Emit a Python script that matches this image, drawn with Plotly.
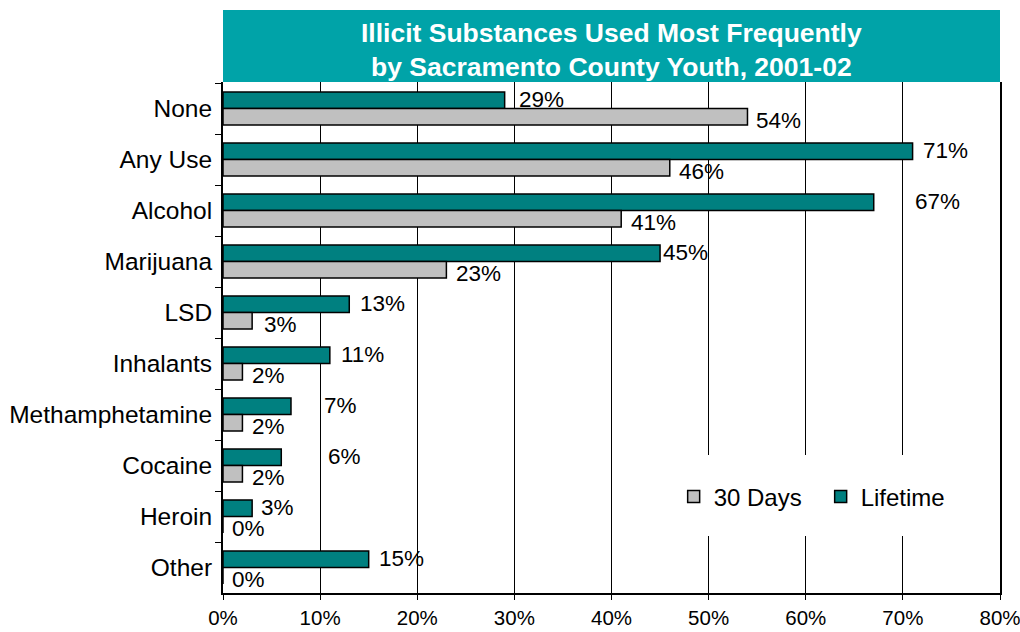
import plotly.graph_objects as go

categories = ["None", "Any Use", "Alcohol", "Marijuana", "LSD", "Inhalants",
              "Methamphetamine", "Cocaine", "Heroin", "Other"]
lifetime = [29, 71, 67, 45, 13, 11, 7, 6, 3, 15]
days30 = [54, 46, 41, 23, 3, 2, 2, 2, 0, 0]
x_ticks = [0, 10, 20, 30, 40, 50, 60, 70, 80]

# label offsets in pixels (style only)
lifetime_label_dx = [12, 8, 39, 1, 9, 9, 31, 45, 7, 8]
days30_label_dx = [7, 7, 8, 8, 10, 8, 8, 8, 7, 7]

TEAL = "#008080"
GRAY = "#C0C0C0"
FONT = "Arial, Liberation Sans, sans-serif"

fig = go.Figure()
fig.add_trace(go.Bar(
    name="Lifetime", y=categories, x=lifetime, orientation="h",
    marker=dict(color=TEAL, line=dict(color="black", width=1.5)),
    legendrank=2,
))
fig.add_trace(go.Bar(
    name="30 Days", y=categories, x=days30, orientation="h",
    marker=dict(color=GRAY, line=dict(color="black", width=1.5)),
    legendrank=1,
))

annotations = []
for c, v, dx in zip(categories, lifetime, lifetime_label_dx):
    annotations.append(dict(x=v, y=c, xref="x", yref="y", text=f"{v}%",
                            showarrow=False, xanchor="left", yanchor="middle",
                            xshift=dx, yshift=9,
                            font=dict(family=FONT, size=22.5, color="black")))
for c, v, dx in zip(categories, days30, days30_label_dx):
    annotations.append(dict(x=v, y=c, xref="x", yref="y", text=f"{v}%",
                            showarrow=False, xanchor="left", yanchor="middle",
                            xshift=dx, yshift=-12,
                            font=dict(family=FONT, size=22.5, color="black")))

# title text inside teal box
annotations.append(dict(
    x=0.5, y=1 + 32 / 511, xref="paper", yref="paper",
    text="<b>Illicit Substances Used Most Frequently<br>by Sacramento County Youth, 2001-02</b>",
    showarrow=False, xanchor="center", yanchor="middle",
    font=dict(family=FONT, size=26.5, color="white"),
))

shapes = [
    dict(type="rect", xref="paper", yref="paper", x0=0, x1=1, y0=1, y1=1 + 72 / 511,
         fillcolor="#00A3A8", line=dict(width=0), layer="above"),
    dict(type="rect", xref="paper", yref="paper", x0=0.56, x1=0.96,
         y0=(593 - 536) / 511, y1=(593 - 455) / 511,
         fillcolor="white", line=dict(width=0), layer="above"),
]

fig.update_layout(
    width=1020, height=632,
    margin=dict(l=223, r=20, t=82, b=39),
    paper_bgcolor="white", plot_bgcolor="white",
    barmode="group", bargap=0.35, bargroupgap=0,
    font=dict(family=FONT, color="black"),
    showlegend=True,
    legend=dict(orientation="h", x=0.58, y=(593 - 497) / 511,
                xanchor="left", yanchor="middle",
                font=dict(family=FONT, size=24, color="black"),
                bgcolor="rgba(0,0,0,0)", entrywidth=102, entrywidthmode="pixels"),
    annotations=annotations,
    shapes=shapes,
)
fig.update_xaxes(
    range=[0, 80], tickvals=x_ticks, ticktext=[f"{t}%" for t in x_ticks],
    showgrid=True, gridcolor="black", gridwidth=1,
    showline=True, linecolor="black", linewidth=2,
    ticks="outside", ticklen=5, tickcolor="black", ticklabelstandoff=0,
    ticklabeloverflow="allow", automargin=False,
    tickfont=dict(family=FONT, size=20.5), zeroline=False,
)
fig.update_yaxes(
    type="category", categoryorder="array", categoryarray=categories,
    autorange="reversed",
    showline=True, linecolor="black", linewidth=2, mirror=True,
    ticks="outside", ticklen=6, tickcolor="black", tickson="boundaries",
    ticklabelstandoff=4, automargin=False,
    tickfont=dict(family=FONT, size=24.5), showgrid=False,
)

fig.write_html("out.html", post_script="document.body.style.margin='0';",
               config={"displayModeBar": False})
